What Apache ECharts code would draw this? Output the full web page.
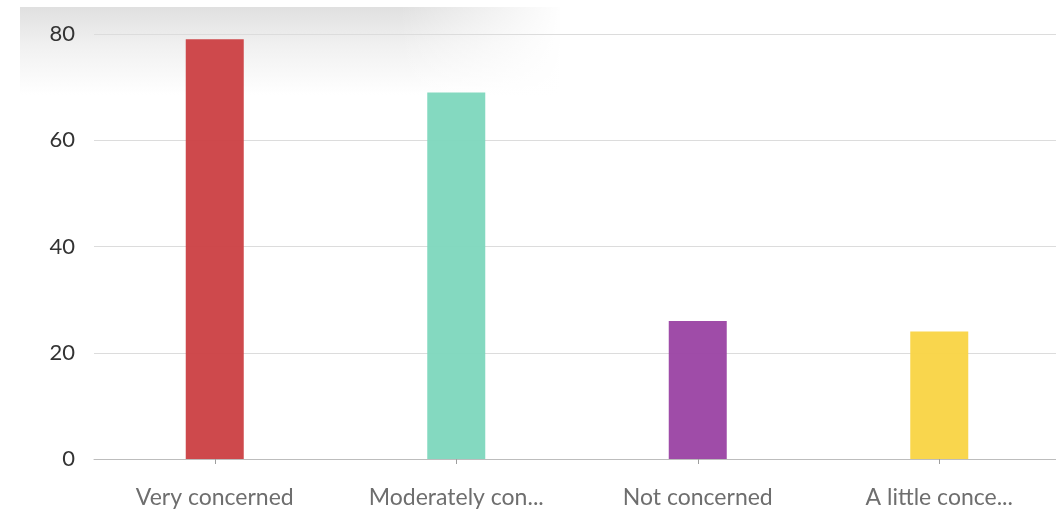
<!DOCTYPE html>
<html>
<head>
<meta charset="utf-8">
<script src="https://cdn.jsdelivr.net/npm/echarts@6/dist/echarts.min.js"></script>
<style>
  html, body { margin: 0; padding: 0; background: #fff; overflow: hidden; width: 1056px; height: 511px; }
  #chart { width: 1064px; height: 511px; }
</style>
</head>
<body>
<div id="chart"></div>
<script>
// Survey responses: level of concern
const categories = ['Very concerned', 'Moderately concerned', 'Not concerned', 'A little concerned'];
const counts = [79, 69, 26, 24];
const barColors = ['#cc4245', '#7fd7bd', '#9b45a4', '#f9d446'];
const yTicks = [0, 20, 40, 60, 80];

function shorten(label, max) {
  return label.length > max ? label.slice(0, max) + '...' : label;
}

const chart = echarts.init(document.getElementById('chart'), null, { renderer: 'canvas' });

chart.setOption({
  animation: false,
  backgroundColor: '#ffffff',
  graphic: [
    {
      type: 'rect',
      z: -10,
      silent: true,
      shape: { x: 20, y: 7, width: 540, height: 88 },
      style: {
        fill: new echarts.graphic.LinearGradient(0, 0, 0, 1, [
          { offset: 0, color: 'rgba(224,224,224,1)' },
          { offset: 0.45, color: 'rgba(241,241,241,1)' },
          { offset: 1, color: 'rgba(255,255,255,1)' }
        ])
      }
    },
    {
      type: 'rect',
      z: -9,
      silent: true,
      shape: { x: 400, y: 7, width: 165, height: 88 },
      style: {
        fill: new echarts.graphic.LinearGradient(0, 0, 1, 0, [
          { offset: 0, color: 'rgba(255,255,255,0)' },
          { offset: 1, color: 'rgba(255,255,255,1)' }
        ])
      }
    }
  ],
  grid: { left: 94, width: 966, top: 34, height: 425, containLabel: false },
  xAxis: {
    type: 'category',
    data: categories,
    axisLine: { lineStyle: { color: '#bdbdbd', width: 1 } },
    axisTick: { show: true, alignWithLabel: true, length: 5, lineStyle: { color: '#9e9e9e' } },
    axisLabel: {
      color: '#6e6e6e',
      fontFamily: 'Lato',
      fontSize: 23,
      margin: 27,
      formatter: v => shorten(v, 14)
    }
  },
  yAxis: {
    type: 'value',
    min: yTicks[0],
    max: yTicks[yTicks.length - 1],
    interval: 20,
    axisLine: { show: false },
    axisTick: { show: false },
    splitLine: { lineStyle: { color: '#dcdcdc', width: 1 } },
    axisLabel: {
      color: '#333333',
      fontFamily: 'Lato',
      fontSize: 22,
      margin: 19
    }
  },
  series: [{
    type: 'bar',
    data: counts.map((v, i) => ({ value: v, itemStyle: { color: barColors[i] } })),
    barWidth: 58,
    itemStyle: { opacity: 0.96 }
  }]
});
</script>
</body>
</html>
